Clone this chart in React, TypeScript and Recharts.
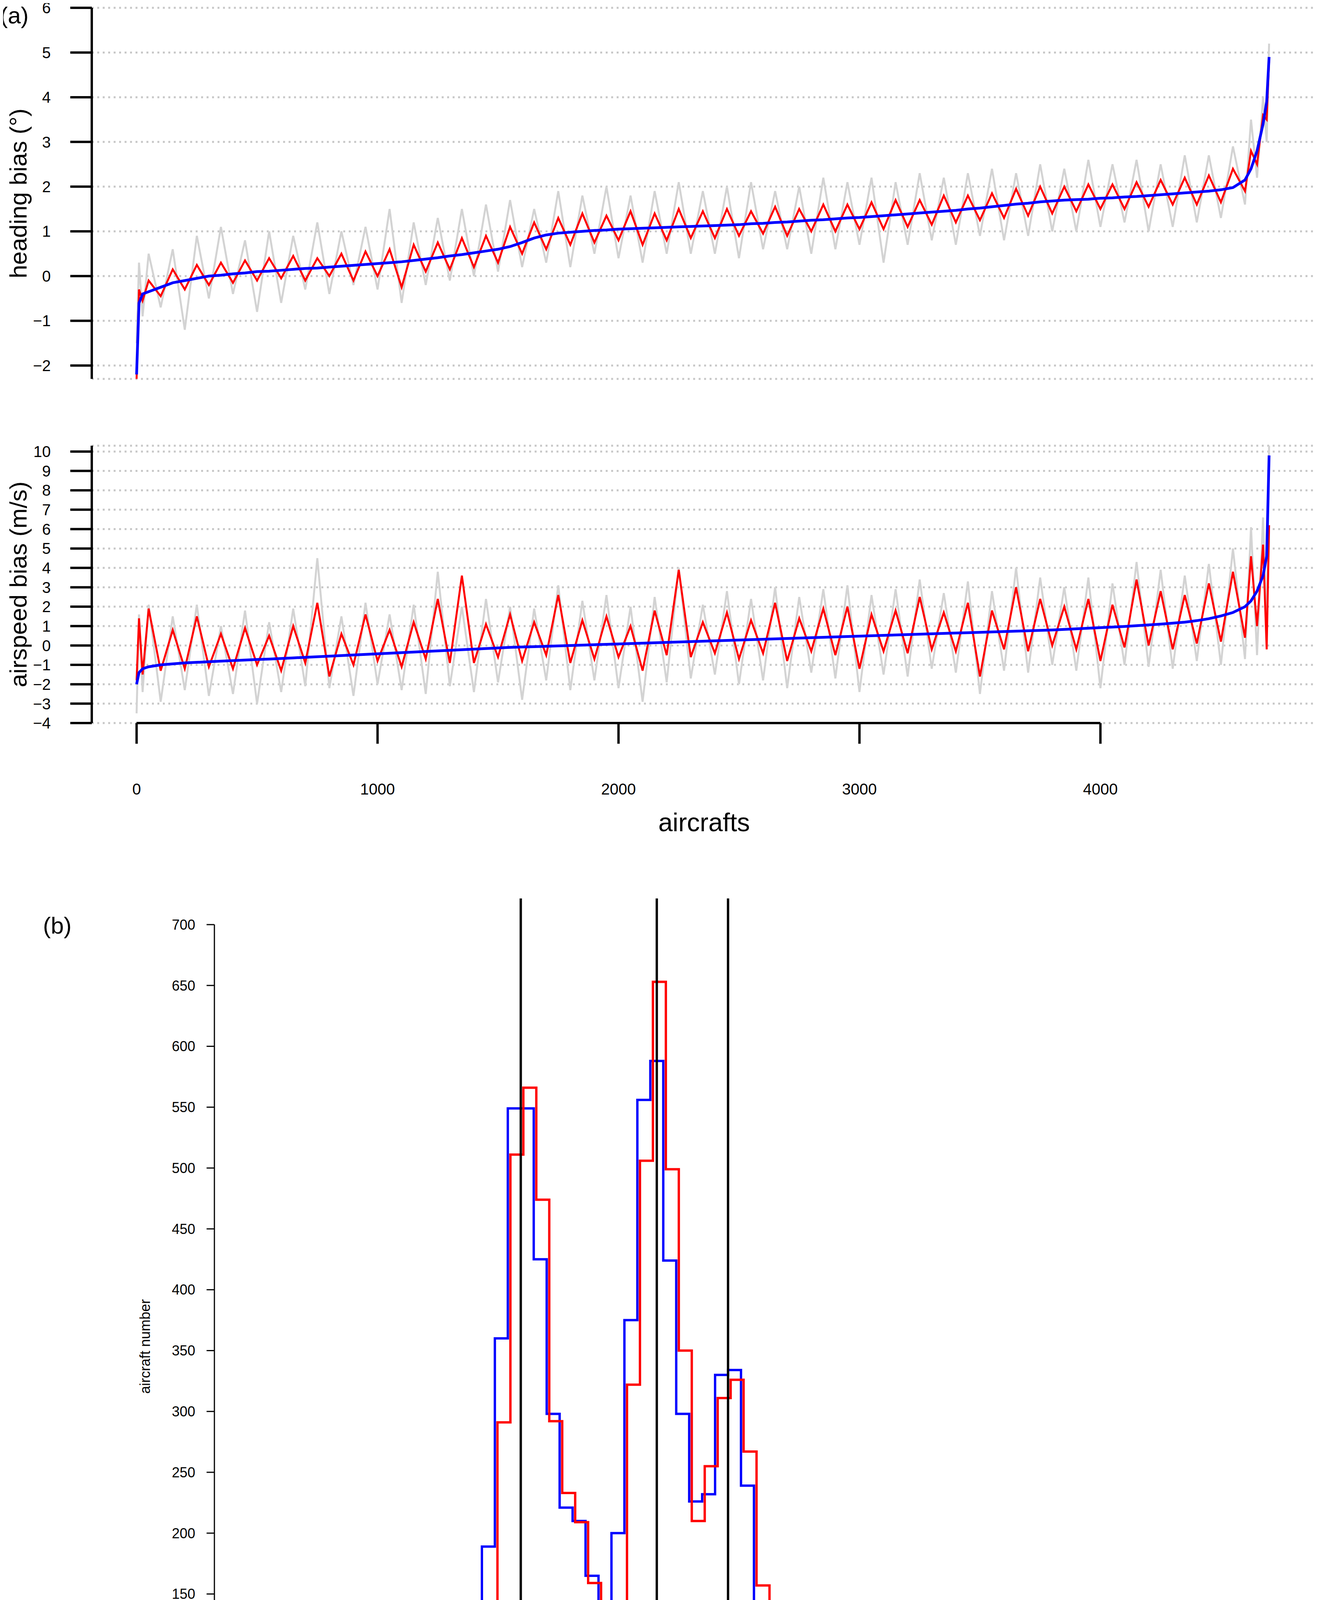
import React from 'react';
import { LineChart, Line, XAxis, YAxis, CartesianGrid, ReferenceLine } from 'recharts';

// ---------- panel (a) data ----------
const aircraft = [
  0, 10, 25, 50, 100, 150, 200, 250, 300, 350,
  400, 450, 500, 550, 600, 650, 700, 750, 800, 850,
  900, 950, 1000, 1050, 1100, 1150, 1200, 1250, 1300, 1350,
  1400, 1450, 1500, 1550, 1600, 1650, 1700, 1750, 1800, 1850,
  1900, 1950, 2000, 2050, 2100, 2150, 2200, 2250, 2300, 2350,
  2400, 2450, 2500, 2550, 2600, 2650, 2700, 2750, 2800, 2850,
  2900, 2950, 3000, 3050, 3100, 3150, 3200, 3250, 3300, 3350,
  3400, 3450, 3500, 3550, 3600, 3650, 3700, 3750, 3800, 3850,
  3900, 3950, 4000, 4050, 4100, 4150, 4200, 4250, 4300, 4350,
  4400, 4450, 4500, 4550, 4600, 4625, 4650, 4675, 4690, 4700,
];
const headingSorted = [
  -2.2, -0.6, -0.4, -0.35, -0.25, -0.15, -0.1, -0.05, 0.0, 0.02,
  0.05, 0.07, 0.1, 0.11, 0.13, 0.15, 0.17, 0.18, 0.2, 0.22,
  0.24, 0.26, 0.28, 0.3, 0.32, 0.35, 0.38, 0.41, 0.45, 0.48,
  0.52, 0.56, 0.6, 0.66, 0.75, 0.85, 0.92, 0.96, 0.98, 1.0,
  1.02, 1.03, 1.05, 1.06, 1.07, 1.08, 1.09, 1.1, 1.11, 1.12,
  1.13, 1.14, 1.15, 1.17, 1.18, 1.2, 1.21, 1.23, 1.25, 1.26,
  1.28, 1.3, 1.31, 1.33, 1.35, 1.37, 1.39, 1.41, 1.43, 1.45,
  1.47, 1.5, 1.52, 1.55, 1.58, 1.61, 1.63, 1.66, 1.68, 1.7,
  1.71, 1.72, 1.74, 1.75, 1.77, 1.78, 1.8, 1.82, 1.84, 1.86,
  1.88, 1.9, 1.93, 1.98, 2.15, 2.4, 2.8, 3.4, 3.9, 4.9,
];
const headingRed = [
  -2.3, -0.3, -0.55, -0.1, -0.45, 0.15, -0.3, 0.25, -0.2, 0.3,
  -0.15, 0.35, -0.1, 0.4, -0.05, 0.45, -0.1, 0.4, 0.0, 0.5,
  -0.1, 0.55, 0.0, 0.6, -0.25, 0.7, 0.1, 0.75, 0.15, 0.85,
  0.2, 0.9, 0.3, 1.1, 0.5, 1.2, 0.6, 1.3, 0.7, 1.4,
  0.75, 1.35, 0.8, 1.45, 0.7, 1.4, 0.8, 1.5, 0.85, 1.45,
  0.85, 1.5, 0.9, 1.45, 0.95, 1.55, 0.9, 1.5, 1.0, 1.6,
  1.0, 1.6, 1.05, 1.65, 1.05, 1.7, 1.1, 1.7, 1.15, 1.8,
  1.2, 1.8, 1.25, 1.85, 1.3, 1.95, 1.35, 2.0, 1.4, 2.0,
  1.45, 2.05, 1.5, 2.05, 1.5, 2.1, 1.55, 2.15, 1.6, 2.2,
  1.6, 2.25, 1.65, 2.4, 1.9, 2.8, 2.5, 3.6, 3.5, 4.8,
];
const headingGray = [
  -1.5, 0.3, -0.9, 0.5, -0.7, 0.6, -1.2, 0.9, -0.5, 1.1,
  -0.4, 0.8, -0.8, 1.0, -0.6, 0.9, -0.3, 1.2, -0.4, 1.0,
  -0.2, 1.1, -0.3, 1.5, -0.6, 1.2, -0.2, 1.3, -0.1, 1.5,
  0.0, 1.6, 0.1, 1.7, 0.2, 1.5, 0.3, 1.9, 0.2, 1.8,
  0.5, 2.0, 0.4, 1.8, 0.3, 1.9, 0.5, 2.1, 0.5, 1.9,
  0.5, 2.0, 0.4, 2.1, 0.6, 1.9, 0.6, 2.0, 0.5, 2.2,
  0.6, 2.1, 0.7, 2.2, 0.3, 2.1, 0.7, 2.3, 0.8, 2.2,
  0.7, 2.3, 0.9, 2.4, 0.8, 2.3, 0.9, 2.5, 1.0, 2.4,
  1.0, 2.6, 1.1, 2.5, 1.2, 2.6, 1.0, 2.5, 1.1, 2.7,
  1.2, 2.7, 1.3, 2.9, 1.6, 3.5, 2.2, 4.0, 3.0, 5.2,
];
const airspeedSorted = [
  -2.0, -1.4, -1.2, -1.1, -1.0, -0.95, -0.9, -0.87, -0.84, -0.81,
  -0.78, -0.75, -0.72, -0.7, -0.67, -0.64, -0.61, -0.58, -0.55, -0.52,
  -0.49, -0.46, -0.43, -0.4, -0.37, -0.34, -0.31, -0.28, -0.25, -0.22,
  -0.19, -0.16, -0.13, -0.1, -0.08, -0.06, -0.04, -0.02, 0.0, 0.02,
  0.04, 0.06, 0.08, 0.1, 0.12, 0.14, 0.16, 0.18, 0.2, 0.22,
  0.24, 0.26, 0.28, 0.3, 0.32, 0.34, 0.36, 0.38, 0.4, 0.42,
  0.44, 0.46, 0.48, 0.5, 0.52, 0.54, 0.56, 0.58, 0.6, 0.62,
  0.64, 0.66, 0.68, 0.7, 0.72, 0.74, 0.76, 0.78, 0.8, 0.83,
  0.86, 0.89, 0.92, 0.95, 0.98, 1.02, 1.06, 1.1, 1.15, 1.2,
  1.28, 1.38, 1.52, 1.7, 2.0, 2.3, 2.8, 3.6, 4.6, 9.8,
];
const airspeedRed = [
  -1.8, 1.4, -1.5, 1.9, -1.3, 0.8, -1.2, 1.5, -1.1, 0.6,
  -1.2, 0.9, -1.0, 0.5, -1.3, 1.0, -0.9, 2.2, -1.6, 0.6,
  -1.0, 1.6, -0.8, 0.8, -1.1, 1.2, -0.7, 2.4, -0.9, 3.6,
  -0.9, 1.1, -0.6, 1.6, -0.8, 1.2, -0.5, 2.6, -0.9, 1.3,
  -0.7, 1.5, -0.6, 1.0, -1.3, 1.8, -0.5, 3.9, -0.6, 1.2,
  -0.4, 1.7, -0.7, 1.3, -0.4, 2.2, -0.8, 1.4, -0.3, 1.9,
  -0.5, 2.0, -1.2, 1.6, -0.3, 1.8, -0.4, 2.5, -0.2, 1.7,
  -0.3, 2.2, -1.6, 1.8, -0.2, 3.0, -0.3, 2.4, 0.0, 2.0,
  -0.2, 2.4, -0.8, 2.1, -0.1, 3.4, 0.0, 2.8, -0.2, 2.6,
  0.1, 3.2, 0.2, 3.8, 0.4, 4.6, 1.0, 5.2, -0.2, 6.2,
];
const airspeedGray = [
  -3.5, 1.6, -2.4, 2.1, -2.9, 1.5, -2.3, 2.1, -2.6, 1.0,
  -2.5, 1.8, -3.0, 1.2, -2.4, 1.9, -2.1, 4.5, -2.2, 1.5,
  -2.6, 2.2, -2.0, 1.6, -2.3, 2.1, -2.5, 3.8, -2.1, 2.0,
  -2.4, 2.4, -1.9, 2.0, -2.8, 1.9, -1.8, 3.1, -2.3, 2.3,
  -1.8, 2.6, -2.2, 2.0, -2.9, 2.5, -1.9, 4.0, -1.7, 2.1,
  -1.5, 2.8, -2.0, 2.4, -1.8, 3.0, -2.2, 2.5, -1.4, 2.9,
  -1.7, 3.1, -2.4, 2.6, -1.5, 2.9, -1.6, 3.4, -1.2, 2.7,
  -1.4, 3.3, -2.5, 2.8, -1.3, 4.0, -1.4, 3.5, -1.0, 3.0,
  -1.3, 3.5, -2.2, 3.2, -1.0, 4.3, -1.1, 3.9, -1.2, 3.6,
  -0.8, 4.2, -1.0, 5.0, -0.7, 6.1, -0.5, 6.6, 0.5, 10.3,
];
const headingTicks = [-2, -1, 0, 1, 2, 3, 4, 5, 6];
const airspeedTicks = [-4, -3, -2, -1, 0, 1, 2, 3, 4, 5, 6, 7, 8, 9, 10];
const aircraftTicks = [0, 1000, 2000, 3000, 4000];

// ---------- panel (b) data ----------
const binEdges = [
  -2.3, -2.2, -2.1, -2.0, -1.9, -1.8, -1.7, -1.6, -1.5, -1.4,
  -1.3, -1.2, -1.1, -1.0, -0.9, -0.8, -0.7, -0.6, -0.5, -0.4,
  -0.3, -0.2, -0.1, 0.0, 0.1, 0.2, 0.3, 0.4, 0.5, 0.6,
  0.7, 0.8, 0.9, 1.0, 1.1, 1.2, 1.3, 1.4, 1.5, 1.6,
  1.7, 1.8, 1.9, 2.0, 2.1, 2.2, 2.3, 2.4, 2.5, 2.6,
  2.7, 2.8, 2.9, 3.0, 3.1, 3.2, 3.3, 3.4, 3.5, 3.6,
  3.7, 3.8, 3.9, 4.0, 4.1, 4.2, 4.3, 4.4, 4.5, 4.6,
  4.7, 4.8,
];
const RED_BIN_SHIFT = 0.02;
const blueCounts = [
  2, 2, 2, 2, 2, 2, 2, 2, 2, 3,
  3, 5, 3, 5, 3, 10, 8, 5, 28, 72,
  105, 189, 360, 549, 549, 425, 298, 221, 210, 165,
  136, 200, 375, 556, 588, 424, 298, 226, 232, 330,
  334, 239, 110, 30, 15, 10, 10, 12, 15, 10,
  8, 15, 12, 10, 8, 12, 15, 8, 8, 10,
  5, 5, 5, 3, 3, 2, 2, 2, 2, 2,
  2, 2,
];
const redCounts = [
  2, 2, 2, 2, 2, 2, 2, 3, 3, 5,
  8, 10, 5, 8, 5, 3, 5, 8, 25, 75,
  110, 143, 291, 511, 566, 474, 292, 233, 209, 159,
  107, 138, 322, 506, 653, 499, 350, 210, 255, 311,
  326, 267, 157, 58, 25, 20, 15, 12, 10, 12,
  15, 10, 12, 10, 12, 8, 10, 8, 5, 8,
  6, 5, 5, 5, 4, 3, 3, 3, 2, 2,
  2, 2,
];
const modeLines = [0.1, 1.15, 1.7];
const modeLabels = ['0.1', '1.15', '1.7'];
const countTicks = [0, 50, 100, 150, 200, 250, 300, 350, 400, 450, 500, 550, 600, 650, 700];
const biasTicks = [-2, -1, 0, 1, 2, 3, 4, 5];

const FONT = '"Liberation Sans", Arial, sans-serif';
const minus = (v: number) => String(v).replace('-', '\u2212');

const headingData = aircraft.map((x, i) => ({ x, s: headingSorted[i], r: headingRed[i], g: headingGray[i] }));
const airspeedData = aircraft.map((x, i) => ({ x, s: airspeedSorted[i], r: airspeedRed[i], g: airspeedGray[i] }));
const blueHist = binEdges.map((x, i) => ({ x, y: blueCounts[i] }));
const redHist = binEdges.map((x, i) => ({ x: x + RED_BIN_SHIFT, y: redCounts[i] }));

const X_DOMAIN: [number, number] = [-186, 4903];

const abs = (left: number, top: number, extra: React.CSSProperties = {}): React.CSSProperties => ({
  position: 'absolute', left, top, fontFamily: FONT, color: '#000', whiteSpace: 'nowrap', ...extra,
});

function SeriesLines() {
  return [
    <Line key="g" dataKey="g" stroke="#d3d3d3" strokeWidth={5} dot={false} isAnimationActive={false} />,
    <Line key="r" dataKey="r" stroke="#ff0000" strokeWidth={5} dot={false} isAnimationActive={false} />,
    <Line key="s" dataKey="s" stroke="#0000ff" strokeWidth={7} dot={false} isAnimationActive={false} />,
  ];
}

export default function App() {
  const tickStyle = { fontSize: 40, fill: '#000', fontFamily: FONT };
  const histTick = { fontSize: 36, fill: '#000', fontFamily: FONT };
  return (
    <div style={{ position: 'relative', margin: -8, width: 3375, height: 4782, background: '#fff', overflow: 'hidden' }}>
      {/* heading chart */}
      <div style={abs(0, 0)}>
        <LineChart width={3375} height={1000} data={headingData} margin={{ top: 20, right: 0, bottom: 30, left: 0 }}>
          <CartesianGrid vertical={false} stroke="#c8c8c8" strokeWidth={5} strokeDasharray="5 9" />
          <XAxis dataKey="x" type="number" domain={X_DOMAIN} hide allowDataOverflow />
          <YAxis type="number" domain={[-2, 6]} ticks={headingTicks} width={235} tickFormatter={minus}
            tick={tickStyle} tickSize={55} tickMargin={50} axisLine={{ stroke: '#000', strokeWidth: 6 }}
            tickLine={{ stroke: '#000', strokeWidth: 6 }} interval={0} />
          {SeriesLines()}
        </LineChart>
      </div>
      {/* airspeed chart */}
      <div style={abs(0, 1100)}>
        <LineChart width={3375} height={1000} data={airspeedData} margin={{ top: 41, right: 0, bottom: 0, left: 0 }}>
          <CartesianGrid vertical={false} stroke="#c8c8c8" strokeWidth={5} strokeDasharray="5 9" />
          <XAxis dataKey="x" type="number" domain={X_DOMAIN} ticks={aircraftTicks} height={249} allowDataOverflow
            tick={tickStyle} tickSize={53} tickMargin={102} axisLine={false}
            tickLine={{ stroke: '#000', strokeWidth: 6 }} interval={0} />
          <YAxis type="number" domain={[-4, 10]} ticks={airspeedTicks} width={235} tickFormatter={minus}
            tick={tickStyle} tickSize={55} tickMargin={50} axisLine={{ stroke: '#000', strokeWidth: 6 }}
            tickLine={{ stroke: '#000', strokeWidth: 6 }} interval={0} />
          {SeriesLines()}
          <ReferenceLine segment={[{ x: 0, y: -4 }, { x: 4000, y: -4 }]} stroke="#000" strokeWidth={6} ifOverflow="visible" />
        </LineChart>
      </div>
      {/* histogram */}
      <div style={abs(0, 2300)}>
        <LineChart width={2959} height={2482} margin={{ top: 67, right: 0, bottom: 0, left: 0 }}>
          <XAxis dataKey="x" type="number" domain={[-2.265, 5]} ticks={biasTicks} height={234} allowDataOverflow
            tick={histTick} tickSize={20} tickMargin={30} axisLine={false} tickFormatter={minus}
            tickLine={{ stroke: '#000', strokeWidth: 3 }} interval={0} />
          <YAxis type="number" domain={[0, 700]} ticks={countTicks} width={549} tick={histTick} tickSize={20} tickMargin={29}
            axisLine={{ stroke: '#000', strokeWidth: 3 }} tickLine={{ stroke: '#000', strokeWidth: 3 }} interval={0} />
          <ReferenceLine segment={[{ x: -2, y: 0 }, { x: 5, y: 0 }]} stroke="#000" strokeWidth={3} ifOverflow="visible" />
          <Line data={blueHist} dataKey="y" type="stepAfter" stroke="#0000ff" strokeWidth={6} dot={false} isAnimationActive={false} />
          <Line data={redHist} dataKey="y" type="stepAfter" stroke="#ff0000" strokeWidth={6} dot={false} isAnimationActive={false} />
          {modeLines.map((m, i) => (
            <ReferenceLine key={m} segment={[{ x: m, y: 0 }, { x: m, y: 730 }]} stroke="#000" strokeWidth={6} ifOverflow="visible"
              label={{ value: modeLabels[i], position: 'insideBottomLeft', offset: 0, dy: -130, dx: 4, fontSize: 36, fill: '#000', fontFamily: FONT }} />
          ))}
        </LineChart>
      </div>
      {/* titles */}
      <div style={abs(0, 5, { fontSize: 60 })}>(a)</div>
      <div style={abs(46, 495, { fontSize: 62, transform: 'translate(-50%, -50%) rotate(-90deg)' })}>heading bias (°)</div>
      <div style={abs(46, 1496, { fontSize: 62, transform: 'translate(-50%, -50%) rotate(-90deg)' })}>airspeed bias (m/s)</div>
      <div style={abs(1803, 2105, { fontSize: 66, transform: 'translate(-50%, -50%)' })}>aircrafts</div>
      <div style={abs(110, 2335, { fontSize: 60 })}>(b)</div>
      <div style={abs(372, 3447, { fontSize: 36, transform: 'translate(-50%, -50%) rotate(-90deg)' })}>aircraft number</div>
      <div style={abs(1800, 4737, { fontSize: 36, transform: 'translate(-50%, -50%)' })}>heading bias (°)</div>
    </div>
  );
}
